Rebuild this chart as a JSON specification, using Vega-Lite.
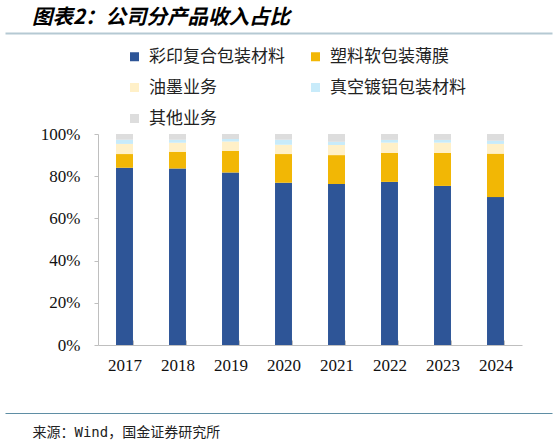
{
  "$schema": "https://vega.github.io/schema/vega-lite/v6.json",
  "background": "white",
  "padding": {"left": 5, "top": 7, "right": 5, "bottom": 2},
  "width": 547,
  "height": 211,
  "config": {
    "view": {"stroke": null},
    "font": "Liberation Serif"
  },
  "title": {
    "text": "图表2：公司分产品收入占比",
    "anchor": "start",
    "frame": "bounds",
    "dx": 27,
    "offset": 5,
    "font": "Noto Sans CJK SC",
    "fontSize": 20.5,
    "fontWeight": "bold",
    "fontStyle": "italic",
    "color": "#000000"
  },
  "resolve": {"scale": {"x": "independent"}, "axis": {"x": "independent"}},
  "layer": [
    {
      "data": {
        "values": [
          {"year": "2017", "product": "彩印复合包装材料", "idx": 1, "share": 84.0},
          {"year": "2017", "product": "塑料软包装薄膜", "idx": 2, "share": 6.5},
          {"year": "2017", "product": "油墨业务", "idx": 3, "share": 4.8},
          {"year": "2017", "product": "真空镀铝包装材料", "idx": 4, "share": 2.0},
          {"year": "2017", "product": "其他业务", "idx": 5, "share": 2.7},
          {"year": "2018", "product": "彩印复合包装材料", "idx": 1, "share": 83.6},
          {"year": "2018", "product": "塑料软包装薄膜", "idx": 2, "share": 8.0},
          {"year": "2018", "product": "油墨业务", "idx": 3, "share": 4.3},
          {"year": "2018", "product": "真空镀铝包装材料", "idx": 4, "share": 1.4},
          {"year": "2018", "product": "其他业务", "idx": 5, "share": 2.7},
          {"year": "2019", "product": "彩印复合包装材料", "idx": 1, "share": 81.7},
          {"year": "2019", "product": "塑料软包装薄膜", "idx": 2, "share": 10.4},
          {"year": "2019", "product": "油墨业务", "idx": 3, "share": 4.3},
          {"year": "2019", "product": "真空镀铝包装材料", "idx": 4, "share": 1.2},
          {"year": "2019", "product": "其他业务", "idx": 5, "share": 2.4},
          {"year": "2020", "product": "彩印复合包装材料", "idx": 1, "share": 76.9},
          {"year": "2020", "product": "塑料软包装薄膜", "idx": 2, "share": 13.6},
          {"year": "2020", "product": "油墨业务", "idx": 3, "share": 4.4},
          {"year": "2020", "product": "真空镀铝包装材料", "idx": 4, "share": 2.4},
          {"year": "2020", "product": "其他业务", "idx": 5, "share": 2.7},
          {"year": "2021", "product": "彩印复合包装材料", "idx": 1, "share": 76.3},
          {"year": "2021", "product": "塑料软包装薄膜", "idx": 2, "share": 13.7},
          {"year": "2021", "product": "油墨业务", "idx": 3, "share": 4.8},
          {"year": "2021", "product": "真空镀铝包装材料", "idx": 4, "share": 1.5},
          {"year": "2021", "product": "其他业务", "idx": 5, "share": 3.7},
          {"year": "2022", "product": "彩印复合包装材料", "idx": 1, "share": 77.3},
          {"year": "2022", "product": "塑料软包装薄膜", "idx": 2, "share": 13.8},
          {"year": "2022", "product": "油墨业务", "idx": 3, "share": 4.8},
          {"year": "2022", "product": "真空镀铝包装材料", "idx": 4, "share": 1.3},
          {"year": "2022", "product": "其他业务", "idx": 5, "share": 2.8},
          {"year": "2023", "product": "彩印复合包装材料", "idx": 1, "share": 75.4},
          {"year": "2023", "product": "塑料软包装薄膜", "idx": 2, "share": 15.7},
          {"year": "2023", "product": "油墨业务", "idx": 3, "share": 4.8},
          {"year": "2023", "product": "真空镀铝包装材料", "idx": 4, "share": 1.3},
          {"year": "2023", "product": "其他业务", "idx": 5, "share": 2.8},
          {"year": "2024", "product": "彩印复合包装材料", "idx": 1, "share": 70.1},
          {"year": "2024", "product": "塑料软包装薄膜", "idx": 2, "share": 20.6},
          {"year": "2024", "product": "油墨业务", "idx": 3, "share": 4.6},
          {"year": "2024", "product": "真空镀铝包装材料", "idx": 4, "share": 1.5},
          {"year": "2024", "product": "其他业务", "idx": 5, "share": 3.2}
        ]
      },
      "mark": {"type": "bar"},
      "encoding": {
        "x": {
          "field": "year",
          "type": "ordinal",
          "scale": {"range": [93, 517], "paddingInner": 0.68, "paddingOuter": 0.34},
          "axis": {
            "orient": "bottom",
            "title": null,
            "labelAngle": 0,
            "labelFont": "Liberation Serif",
            "labelFontSize": 17,
            "labelColor": "#111111",
            "labelPadding": 17,
            "domainColor": "#bfbfbf",
            "tickColor": "#bfbfbf",
            "tickBand": "extent",
            "tickSize": -5
          }
        },
        "y": {
          "field": "share",
          "type": "quantitative",
          "aggregate": "sum",
          "stack": "zero",
          "scale": {"domain": [0, 100], "nice": false},
          "axis": {
            "title": null,
            "offset": -93,
            "values": [0, 20, 40, 60, 80, 100],
            "labelExpr": "datum.value + '%'",
            "grid": false,
            "labelFont": "Liberation Serif",
            "labelFontSize": 17,
            "labelColor": "#111111",
            "labelPadding": 14,
            "tickSize": 4,
            "domainColor": "#bfbfbf",
            "tickColor": "#bfbfbf"
          }
        },
        "color": {
          "field": "product",
          "type": "nominal",
          "sort": ["彩印复合包装材料", "塑料软包装薄膜", "油墨业务", "真空镀铝包装材料", "其他业务"],
          "scale": {
            "domain": ["彩印复合包装材料", "塑料软包装薄膜", "油墨业务", "真空镀铝包装材料", "其他业务"],
            "range": ["#2e5597", "#f2b705", "#fff0c8", "#c8ebfa", "#dddddd"]
          },
          "legend": {
            "title": null,
            "orient": "none",
            "legendX": 121,
            "legendY": -86,
            "columns": 2,
            "direction": "horizontal",
            "padding": 0,
            "columnPadding": 22,
            "rowPadding": 13,
            "symbolType": "square",
            "symbolSize": 81,
            "symbolStrokeWidth": 0,
            "labelOffset": 6,
            "labelFont": "Noto Sans CJK SC",
            "labelFontSize": 17,
            "labelColor": "#222222"
          }
        },
        "order": {"field": "idx", "type": "quantitative", "sort": "ascending"}
      }
    },
    {
      "data": {"values": []},
      "mark": "point",
      "encoding": {
        "x": {
          "field": "v",
          "type": "quantitative",
          "scale": {"domain": [0, 1]},
          "axis": {"orient": "top", "offset": 101, "title": null, "labels": false, "ticks": false, "grid": false, "domainColor": "#b5c9d3", "domainWidth": 2}
        }
      }
    },
    {
      "data": {"values": []},
      "mark": "point",
      "encoding": {
        "x": {
          "field": "w",
          "type": "quantitative",
          "scale": {"domain": [0, 1]},
          "axis": {
            "orient": "bottom",
            "offset": 68,
            "labels": false,
            "ticks": false,
            "grid": false,
            "domainColor": "#5f8ea4",
            "domainWidth": 1,
            "title": "来源：Wind，国金证券研究所",
            "titleX": 27,
            "titleY": 19,
            "titleAlign": "left",
            "titleBaseline": "middle",
            "titleFont": "DejaVu Sans Mono, Noto Sans CJK SC",
            "titleFontSize": 14,
            "titleFontWeight": "normal",
            "titleColor": "#222222"
          }
        }
      }
    }
  ]
}
